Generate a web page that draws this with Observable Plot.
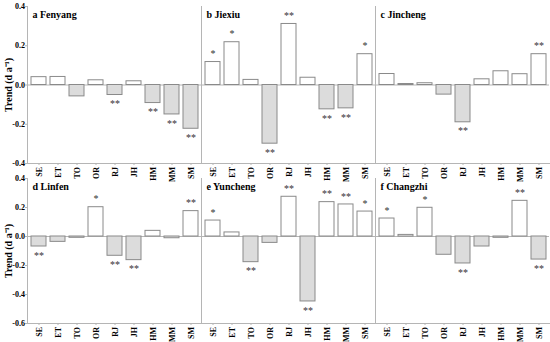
<!DOCTYPE html>
<html><head><meta charset="utf-8">
<script src="https://cdn.jsdelivr.net/npm/d3@7"></script>
<script src="https://cdn.jsdelivr.net/npm/@observablehq/plot@0.6"></script>
<style>
body{margin:0;background:#fff;}
#chart{position:relative;width:550px;height:342px;overflow:hidden;background:#fff;}
#top,#bot{position:absolute;left:0;}
#top{top:0}
#bot{top:173px}
#chart svg{overflow:visible;}
</style></head><body><div id="chart"><div id="top"></div><div id="bot"></div></div>
<script>
const categories = ["SE","ET","TO","OR","RJ","JH","HM","MM","SM"];
const topStations = ["a Fenyang","b Jiexiu","c Jincheng"];
const bottomStations = ["d Linfen","e Yuncheng","f Changzhi"];

const fenyang   = [0.040, 0.041, -0.058, 0.024, -0.051, 0.019, -0.092, -0.150, -0.223];
const jiexiu    = [0.117, 0.218, 0.026, -0.299, 0.311, 0.037, -0.124, -0.119, 0.157];
const jincheng  = [0.056, 0.005, 0.009, -0.049, -0.190, 0.029, 0.070, 0.055, 0.157];
const linfen    = [-0.069, -0.037, -0.009, 0.202, -0.133, -0.163, 0.039, -0.012, 0.175];
const yuncheng  = [0.110, 0.028, -0.177, -0.044, 0.274, -0.448, 0.237, 0.221, 0.172];
const changzhi  = [0.124, 0.011, 0.198, -0.126, -0.186, -0.069, -0.009, 0.246, -0.159];

const fenyangSig  = ["", "", "", "", "**", "", "**", "**", "**"];
const jiexiuSig   = ["*", "*", "", "**", "**", "", "**", "**", "*"];
const jinchengSig = ["", "", "", "", "**", "", "", "", "**"];
const linfenSig   = ["**", "", "", "*", "**", "**", "", "", "**"];
const yunchengSig = ["*", "", "**", "", "**", "**", "**", "**", "*"];
const changzhiSig = ["*", "", "*", "", "**", "", "", "**", "**"];

const topTicks = [-0.4, -0.2, 0.0, 0.2, 0.4];
const bottomTicks = [-0.6, -0.4, -0.2, 0.0, 0.2, 0.4];
const yLabel = "Trend (d a\u207B\u00B9)";

const font = "'Liberation Serif','Times New Roman',serif";

function row(names, vals, sigs, domain, ticks, height, mt, mb) {
  const data = [];
  names.forEach((n, i) => categories.forEach((c, j) =>
    data.push({station: n, cat: c, value: vals[i][j], sig: sigs[i][j]})));
  const axisColor = "#b5b5b5";
  return Plot.plot({
    width: 550, height, marginTop: mt, marginBottom: mb, marginLeft: 26, marginRight: 1,
    style: {fontFamily: font, fontWeight: "bold", fontSize: "8px", color: "#000", background: "transparent", overflow: "visible"},
    fx: {domain: names, axis: null, padding: 0},
    x: {domain: categories, paddingInner: 0.22, paddingOuter: 0.1, axis: null},
    y: {domain, axis: null},
    marks: [
      Plot.ruleY([0], {stroke: axisColor}),
      Plot.frame({anchor: "left", stroke: axisColor}),
      Plot.frame({anchor: "bottom", stroke: axisColor}),
      Plot.axisX({tickRotate: -90, tickSize: 2, tickPadding: 1.5, label: null, stroke: axisColor, fontWeight: "bold"}),
      Plot.axisY({ticks, tickFormat: d => d.toFixed(1), tickSize: 2, tickPadding: 0.5, label: null, stroke: axisColor}),
      Plot.barY(data, {fx: "station", x: "cat", y: "value",
        fill: d => d.value < 0 ? "#dcdcdc" : "#ffffff", stroke: "#8a8a8a", strokeWidth: 1}),
      Plot.text(data.filter(d => d.sig && d.value >= 0), {fx: "station", x: "cat", y: "value", text: "sig",
        lineAnchor: "middle", dy: -8, fontSize: 10, fontWeight: "normal", fill: "#333"}),
      Plot.text(data.filter(d => d.sig && d.value < 0), {fx: "station", x: "cat", y: "value", text: "sig",
        lineAnchor: "middle", dy: 9, fontSize: 10, fontWeight: "normal", fill: "#333"}),
      Plot.text(names, {fx: d => d, text: d => d, frameAnchor: "top-left", textAnchor: "start",
        lineAnchor: "top", dx: 5, dy: 4, fontSize: 10, fontWeight: "bold"}),
      Plot.text([names[0]], {fx: d => d, text: () => yLabel, frameAnchor: "left", rotate: -90,
        textAnchor: "middle", lineAnchor: "middle", dx: -18.5, fontSize: 10, fontWeight: "bold"})
    ]
  });
}

document.getElementById("top").appendChild(
  row(topStations, [fenyang, jiexiu, jincheng], [fenyangSig, jiexiuSig, jinchengSig],
      [-0.4, 0.4], topTicks, 174, 6, 11));
document.getElementById("bot").appendChild(
  row(bottomStations, [linfen, yuncheng, changzhi], [linfenSig, yunchengSig, changzhiSig],
      [-0.6, 0.4], bottomTicks, 169, 5, 19));
</script>
</body></html>
